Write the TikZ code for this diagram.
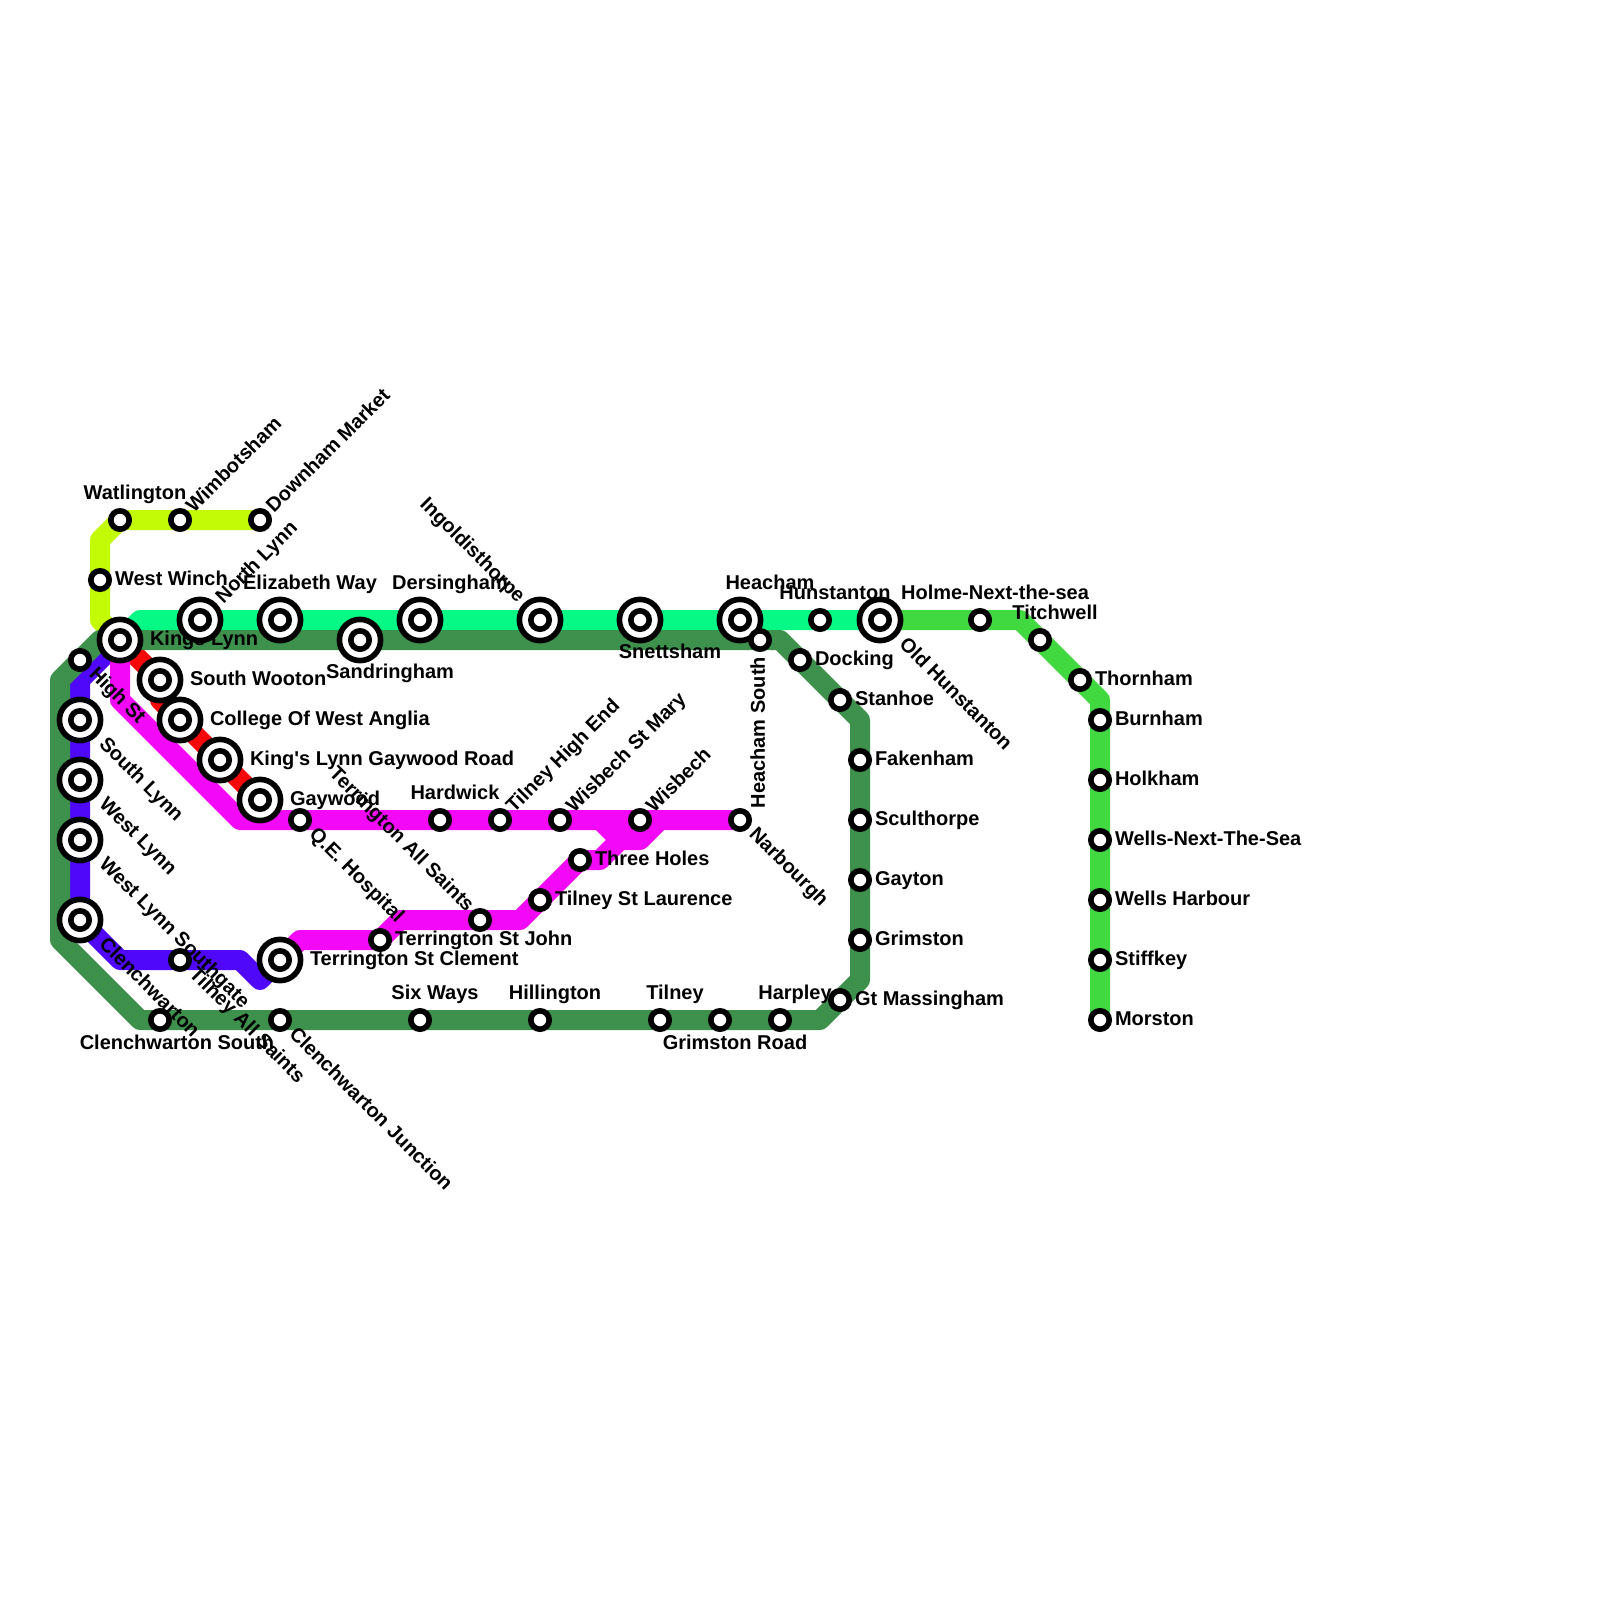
\documentclass[tikz,border=0pt]{standalone}
\usepackage{fontspec}
\newfontfamily\lblfont{Liberation Sans}
\definecolor{clime}{HTML}{C3FA05}
\definecolor{cspring}{HTML}{06F985}
\definecolor{cgreen}{HTML}{40D940}
\definecolor{cdark}{HTML}{3D914D}
\definecolor{cblue}{HTML}{5008FA}
\definecolor{cmag}{HTML}{F308F8}
\definecolor{cred}{HTML}{F80808}
\tikzset{
  railline/.style={line width=10pt,line join=round,line cap=round},
  stn/.style={circle,draw=black,fill=white,line width=2.8pt,minimum size=9.2pt,inner sep=0pt,outer sep=0pt},
  bigstn/.style={circle,draw=black,fill=white,line width=2.8pt,minimum size=20.6pt,inner sep=0pt,outer sep=0pt},
  lbl/.style={font=\lblfont\bfseries\fontsize{10}{11}\selectfont,inner sep=0pt,outer sep=0pt,text height=.72em,text depth=.2em,text=black},
  rs/.style={lbl,xshift=7.5pt,yshift=0pt,anchor=west},
  rb/.style={lbl,xshift=15pt,yshift=0pt,anchor=west},
  as/.style={lbl,xshift=7.5pt,yshift=12.7pt,anchor=center},
  ab/.style={lbl,xshift=15pt,yshift=17.7pt,anchor=center},
  bb/.style={lbl,xshift=15pt,yshift=-16.8pt,anchor=center},
  bs/.style={lbl,xshift=7.5pt,yshift=-12.3pt,anchor=center},
  ds/.style={lbl,xshift=6pt,yshift=-5.7pt,rotate=-45,anchor=west},
  db/.style={lbl,xshift=11pt,yshift=-10.7pt,rotate=-45,anchor=west},
  us/.style={lbl,xshift=5.2pt,yshift=5pt,rotate=45,anchor=west},
  ub/.style={lbl,xshift=10pt,yshift=9.8pt,rotate=45,anchor=west},
}
\begin{document}
\begin{tikzpicture}[x=0.5pt,y=-0.5pt]
\useasboundingbox (0,0) rectangle (1600,1600);
\fill[white] (0,0) rectangle (1600,1600);
% positions
\foreach \n/\x/\y in {kl/120/640,wat/120/520,wim/180/520,dow/260/520,win/100/580,
 nly/200/620,eli/280/620,san/360/640,der/420/620,ing/540/620,sne/640/620,hea/740/620,hun/820/620,old/880/620,
 hol/980/620,tit/1040/640,tho/1080/680,bur/1100/720,hok/1100/780,wel/1100/840,wha/1100/900,sti/1100/960,mor/1100/1020,
 hig/80/660,hso/760/640,doc/800/660,sta/840/700,fak/860/760,scu/860/820,gay/860/880,gri/860/940,gtm/840/1000,
 har/780/1020,grr/720/1020,til/660/1020,hil/540/1020,six/420/1020,clj/280/1020,cls/160/1020,
 sly/80/720,wly/80/780,wls/80/840,cle/80/920,tas/180/960,tsc/280/960,
 swo/160/680,cwa/180/720,klg/220/760,gaw/260/800,
 qeh/300/820,hrd/440/820,the/500/820,wsm/560/820,wis/640/820,nar/740/820,
 tsj/380/940,tal/480/920,tsl/540/900,thr/580/860}
 {\coordinate (\n) at (\x,\y);}
% lines
\draw[railline,clime] (dow)--(wat)--(100,540)--(100,620)--(kl);
\draw[railline,cspring] (kl)--(140,620)--(old);
\draw[railline,cgreen] (old)--(1020,620)--(1100,700)--(mor);
\draw[railline,cred] (kl)--(swo)--(160,700)--(cwa)--(gaw);
\draw[railline,cblue] (kl)--(80,680)--(cle)--(120,960)--(240,960)--(260,980)--(tsc);
\draw[railline,cdark] (kl)--(780,640)--(860,720)--(860,980)--(820,1020)--(140,1020)--(60,940)--(60,680)--(100,640)--(kl);
\draw[railline,cmag] (kl)--(120,700)--(240,820)--(nar);
\draw[railline,cmag] (tsc)--(300,940)--(tsj)--(400,920)--(520,920)--(thr)--(600,860)--(620,840)--(640,840)--(660,820);
\draw[railline,cmag] (600,820)--(620,840);
% labels
\node[rb] (t1) at (kl) {Kings Lynn};
\node[as] (t2) at (wat) {Watlington};
\node[us] (t3) at (wim) {Wimbotsham};
\node[us] (t4) at (dow) {Downham Market};
\node[rs] (t5) at (win) {West Winch};
\node[ub] (t6) at (nly) {North Lynn};
\node[ab] (t7) at (eli) {Elizabeth Way};
\node[bb] (t8) at (san) {Sandringham};
\node[ab] (t9) at (der) {Dersingham};
\node[lbl,xshift=-9.5pt,yshift=10pt,rotate=-45,anchor=east] (t10) at (ing) {Ingoldisthorpe};
\node[bb] (t11) at (sne) {Snettsham};
\node[ab] (t12) at (hea) {Heacham};
\node[as] (t13) at (hun) {Hunstanton};
\node[db] (t14) at (old) {Old Hunstanton};
\node[as] (t15) at (hol) {Holme-Next-the-sea};
\node[as] (t16) at (tit) {Titchwell};
\node[rs] (t17) at (tho) {Thornham};
\node[rs] (t18) at (bur) {Burnham};
\node[rs] (t19) at (hok) {Holkham};
\node[rs] (t20) at (wel) {Wells-Next-The-Sea};
\node[rs] (t21) at (wha) {Wells Harbour};
\node[rs] (t22) at (sti) {Stiffkey};
\node[rs] (t23) at (mor) {Morston};
\node[ds] (t24) at (hig) {High St};
\node[lbl,xshift=-.2pt,yshift=-8.5pt,rotate=90,anchor=east] (t25) at (hso) {Heacham South};
\node[rs] (t26) at (doc) {Docking};
\node[rs] (t27) at (sta) {Stanhoe};
\node[rs] (t28) at (fak) {Fakenham};
\node[rs] (t29) at (scu) {Sculthorpe};
\node[rs] (t30) at (gay) {Gayton};
\node[rs] (t31) at (gri) {Grimston};
\node[rs] (t32) at (gtm) {Gt Massingham};
\node[as] (t33) at (har) {Harpley};
\node[bs] (t34) at (grr) {Grimston Road};
\node[as] (t35) at (til) {Tilney};
\node[as] (t36) at (hil) {Hillington};
\node[as] (t37) at (six) {Six Ways};
\node[ds] (t38) at (clj) {Clenchwarton Junction};
\node[lbl,xshift=8.5pt,yshift=-12.3pt,anchor=center] (t39) at (cls) {Clenchwarton South};
\node[db] (t40) at (sly) {South Lynn};
\node[db] (t41) at (wly) {West Lynn};
\node[db] (t42) at (wls) {West Lynn Southgate};
\node[db] (t43) at (cle) {Clenchwarton};
\node[ds] (t44) at (tas) {Tilney All Saints};
\node[rb] (t45) at (tsc) {Terrington St Clement};
\node[rb] (t46) at (swo) {South Wooton};
\node[rb] (t47) at (cwa) {College Of West Anglia};
\node[rb] (t48) at (klg) {King's Lynn Gaywood Road};
\node[rb] (t49) at (gaw) {Gaywood};
\node[ds] (t50) at (qeh) {Q.E. Hospital};
\node[as] (t51) at (hrd) {Hardwick};
\node[us] (t52) at (the) {Tilney High End};
\node[us] (t53) at (wsm) {Wisbech St Mary};
\node[us] (t54) at (wis) {Wisbech};
\node[ds] (t55) at (nar) {Narbourgh};
\node[rs] (t56) at (tsj) {Terrington St John};
\node[lbl,xshift=-5pt,yshift=5.5pt,rotate=-45,anchor=east] (t57) at (tal) {Terrington All Saints};
\node[rs] (t58) at (tsl) {Tilney St Laurence};
\node[rs] (t59) at (thr) {Three Holes};
% big stations
\foreach \n in {kl,nly,eli,san,der,ing,sne,hea,old,sly,wly,wls,cle,tsc,swo,cwa,klg,gaw}
 {\node[bigstn] (b\n) at (\n) {};}
% small stations
\foreach \n in {kl,wat,wim,dow,win,nly,eli,san,der,ing,sne,hea,hun,old,hol,tit,tho,bur,hok,wel,wha,sti,mor,
 hig,hso,doc,sta,fak,scu,gay,gri,gtm,har,grr,til,hil,six,clj,cls,sly,wly,wls,cle,tas,tsc,swo,cwa,klg,gaw,
 qeh,hrd,the,wsm,wis,nar,tsj,tal,tsl,thr}
 {\node[stn] (s\n) at (\n) {};}
\end{tikzpicture}
\end{document}
